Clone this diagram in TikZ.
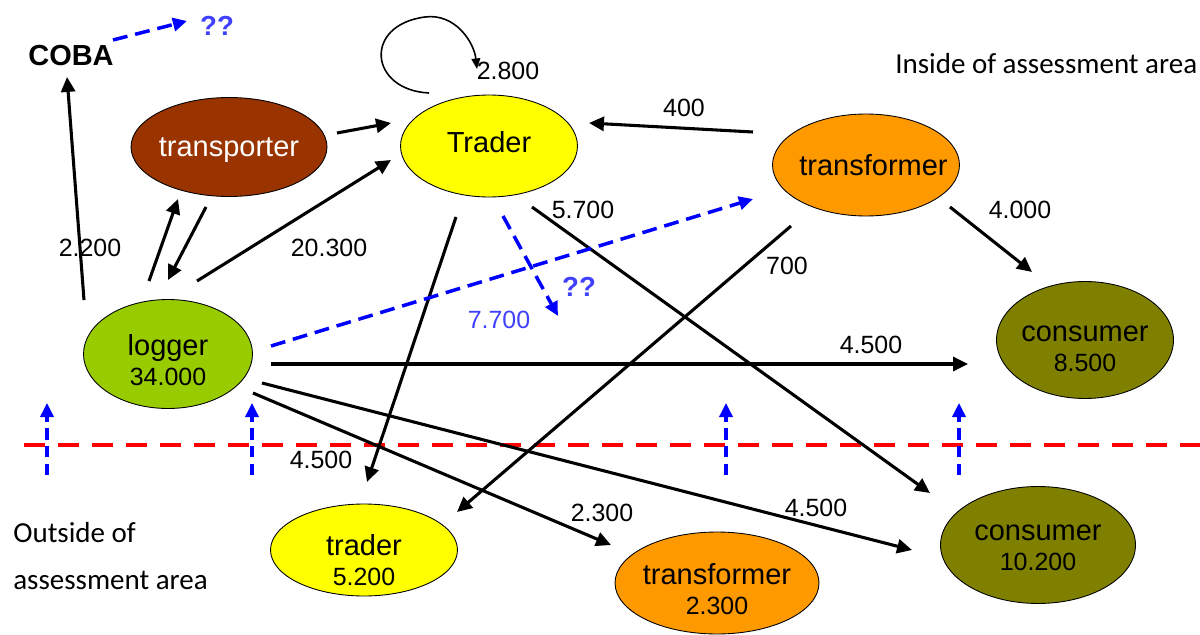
\documentclass[tikz,border=0pt]{standalone}
\usepackage{fontspec}
\setmainfont{Liberation Sans}
\newfontfamily\calibri{Carlito}
\usetikzlibrary{shapes.geometric,arrows.meta}

\definecolor{transbrown}{RGB}{153,51,0}
\definecolor{tradeyellow}{RGB}{255,255,0}
\definecolor{formorange}{RGB}{255,153,0}
\definecolor{loggreen}{RGB}{153,204,0}
\definecolor{consolive}{RGB}{128,128,0}
\definecolor{askblue}{RGB}{64,64,255}

% name on the first line, amount on the second
\newcommand\actortext[3][19pt]{\rule{0pt}{#1}#2\\{\fontsize{14.2}{17}\selectfont #3}}

\tikzset{
  actor/.style={ellipse, draw=black, line width=0.5pt, inner xsep=-12pt, inner ysep=-1pt,
    align=center, font=\fontsize{16.5}{17}\selectfont},
  flow/.style={line width=1.75pt, -{Triangle[length=8.5pt,width=8pt]}},
  unknown/.style={blue, line width=2pt, dash pattern=on 8.5pt off 4.5pt,
    -{Triangle[length=8pt,width=7.5pt]}},
  amount/.style={font=\fontsize{14.2}{16}\selectfont, inner sep=0pt},
  ask/.style={askblue, font=\bfseries\fontsize{15.7}{17}\selectfont, inner sep=0pt},
  area/.style={font=\calibri\fontsize{16.5}{26.7}\selectfont, inner sep=0pt, anchor=west, align=left}
}

\begin{document}
\begin{tikzpicture}[x=0.02cm, y=-0.02cm]
    \useasboundingbox (0,0) rectangle (1200,635);

    % border of the assessment area
    \draw[red, line width=2.5pt, dash pattern=on 0.42cm off 0.26cm] (24,445) -- (1200,445);
    \foreach \x in {47,252,726,959}
        \draw[unknown, line width=1.8pt, dash pattern=on 6.5pt off 3.5pt] (\x,475) -- (\x,403);

    % actors inside
    \node[actor, fill=transbrown, text=white, text depth=0pt, minimum width=3.92cm, minimum height=1.98cm] (transporter) at (229,147) {transporter};
    \node[actor, fill=tradeyellow, text depth=4.5pt, minimum width=3.54cm, minimum height=2.04cm] (traderIn) at (489,146) {Trader};
    \node[actor, fill=formorange, minimum width=3.74cm, minimum height=2.04cm] (transformerIn) at (866,165) {\hspace{0.3cm}transformer};
    \node[actor, fill=loggreen, minimum width=3.38cm, minimum height=2.18cm] (logger) at (168,354) {\actortext{logger}{34.000}};
    \node[actor, fill=consolive, minimum width=3.54cm, minimum height=2.34cm] (consumerIn) at (1085,340) {\actortext{consumer}{8.500}};

    % actors outside
    \node[actor, fill=tradeyellow, inner ysep=-3pt, minimum width=3.74cm, minimum height=1.84cm] (traderOut) at (364,550) {\actortext[23pt]{trader}{5.200}};
    \node[actor, fill=formorange, minimum width=4.08cm, minimum height=2.04cm] (transformerOut) at (717,583) {\actortext{transformer}{2.300}};
    \node[actor, fill=consolive, minimum width=3.9cm, minimum height=2.34cm] (consumerOut) at (1038,545) {\actortext[12pt]{consumer}{10.200}};

    \node[font=\bfseries\fontsize{16.5}{17}\selectfont, inner sep=0pt] (COBA) at (71,56) {COBA};
    \node[ask] (askCOBA) at (217,26) {??};
    \node[ask] (askTrader) at (579,287) {??};

    % flows
    \draw[flow] ([shift={(-84,-54)}]logger.center) -- ([shift={(-4,21)}]COBA.center);
    \draw[unknown] ([shift={(42,-16)}]COBA.center) -- ([shift={(-30,-5)}]askCOBA.center);
    \draw[line width=0.9pt, -{Triangle[length=6pt,width=5pt]}] ([shift={(-60,-53)}]traderIn.center)
        .. controls +(-60,-3) and +(-62,8) .. ++(-4,-76)
        .. controls +(30,-4) and +(-3,-27) .. ++(52,52);
    \draw[flow] ([shift={(108,-14)}]transporter.center) -- ([shift={(-98,-23)}]traderIn.center);
    \draw[flow] ([shift={(-19,-73)}]logger.center) -- ([shift={(-51,52)}]transporter.center);
    \draw[flow] ([shift={(-23,60)}]transporter.center) -- ([shift={(0,-74)}]logger.center);
    \draw[flow] ([shift={(29,-73)}]logger.center) -- ([shift={(-98,14)}]traderIn.center);
    \draw[flow] ([shift={(-113,-33)}]transformerIn.center) -- ([shift={(100,-23)}]traderIn.center);
    \draw[flow] ([shift={(84,42)}]transformerIn.center) -- ([shift={(-53,-68)}]consumerIn.center);
    \draw[flow] ([shift={(-33,71)}]traderIn.center) -- ([shift={(3,-68)}]traderOut.center);
    \draw[flow] ([shift={(43,61)}]traderIn.center) -- ([shift={(-108,-52)}]consumerOut.center);
    \draw[unknown] ([shift={(14,70)}]traderIn.center) -- ([shift={(-21,29)}]askTrader.center);
    \draw[unknown] ([shift={(103,-8)}]logger.center) -- ([shift={(-113,34)}]transformerIn.center);
    \draw[flow] ([shift={(-75,61)}]transformerIn.center) -- ([shift={(93,-38)}]traderOut.center);
    \draw[flow] ([shift={(103,10)}]logger.center) -- ([shift={(-117,24)}]consumerIn.center);
    \draw[flow] ([shift={(85,39)}]logger.center) -- ([shift={(-106,-38)}]transformerOut.center);
    \draw[flow] ([shift={(94,29)}]logger.center) -- ([shift={(-126,5)}]consumerOut.center);

    % amounts
    \node[amount] (amtCOBA) at (90,248) {2.200};
    \node[amount] (amtTrader) at (329,248) {20.300};
    \node[amount] (amtSelf) at (508,71) {2.800};
    \node[amount] (amtBack) at (684,108) {400};
    \node[amount] (amtConsIn) at (1020,210) {4.000};
    \node[amount] (amtFormOut) at (787,266) {700};
    \node[amount] (amtTradeCons) at (583,210) {5.700};
    \node[amount] (amtTradeOut) at (321,460) {4.500};
    \node[amount] (amtLogForm) at (602,513) {2.300};
    \node[amount] (amtLogConsOut) at (816,508) {4.500};
    \node[amount] (amtLogConsIn) at (871,345) {4.500};
    \node[amount, askblue] (amtAsk) at (499,320) {7.700};

    % area labels
    \node[area] (inside) at (895,64) {Inside of assessment area};
    \node[area] (outside) at (13,556) {Outside of\\assessment area};
\end{tikzpicture}
\end{document}
